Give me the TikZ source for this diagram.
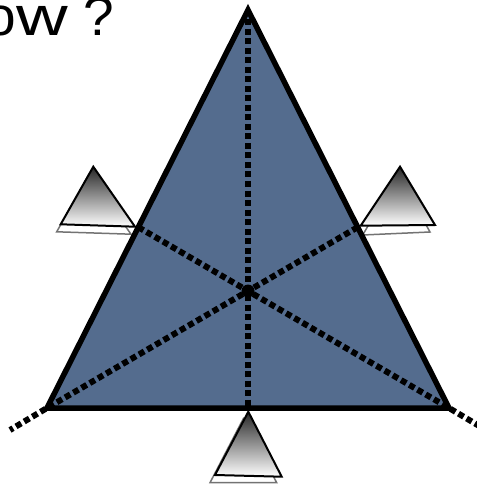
\documentclass[tikz,border=0pt]{standalone}
\usepackage{fontspec}
\usepackage{graphicx}
\setmainfont{Liberation Sans}
\definecolor{slate}{RGB}{84,108,142}
\begin{document}
\begin{tikzpicture}[x=1pt,y=-1pt,
  bigtri/.style={draw=black,line width=5.5pt,line join=miter,fill=slate},
  dotline/.style={line width=6pt,dash pattern=on 6pt off 3.5pt,black},
  prism/.style={draw=black,line width=2pt,line join=miter,top color=black!85,bottom color=white},
  prismshadow/.style={draw=black!55,line width=1.5pt,fill=white}]
\useasboundingbox (0,0) rectangle (476,486);
% title
\node[anchor=base west,inner sep=0pt,font=\fontsize{55}{60}\selectfont] (title) at (-15,36) {o\kern1pt\scalebox{1.3}[1]{w} ?};
% key points
\coordinate (A) at (248,10);
\coordinate (B) at (47,408);
\coordinate (C) at (449,408);
\coordinate (O) at (248,291);
\coordinate (L) at (138.3,227.2);
\coordinate (R) at (357.7,227.2);
\coordinate (M) at (248,408);
\coordinate (Bx) at (10,430);
\coordinate (Cx) at (486,430);
% small triangles: left
\draw[prismshadow] (89,174.5) -- (56.7,231.8) -- (131,234.2) -- cycle;
\draw[prism] (93.3,166.7) -- (60.7,224.3) -- (135,226.7) -- cycle;
% right
\draw[prismshadow] (398,174.5) -- (362.7,235) -- (430,232) -- cycle;
\draw[prism] (400,166.7) -- (360.7,225.7) -- (435,225) -- cycle;
% bottom
\draw[prismshadow] (243.3,418.7) -- (210,482.7) -- (276.7,482.7) -- cycle;
\draw[prism] (248.3,411.7) -- (215,475) -- (281.7,476.7) -- cycle;
% big triangle
\draw[bigtri] (A) -- (B) -- (C) -- cycle;
% dotted lines
\draw[dotline] (A) -- (M);
\draw[dotline] (R) -- (O) -- (B) -- (Bx);
\draw[dotline] (L) -- (O) -- (C) -- (Cx);
\fill[black] (O) circle (6.5pt);
\end{tikzpicture}
\end{document}
